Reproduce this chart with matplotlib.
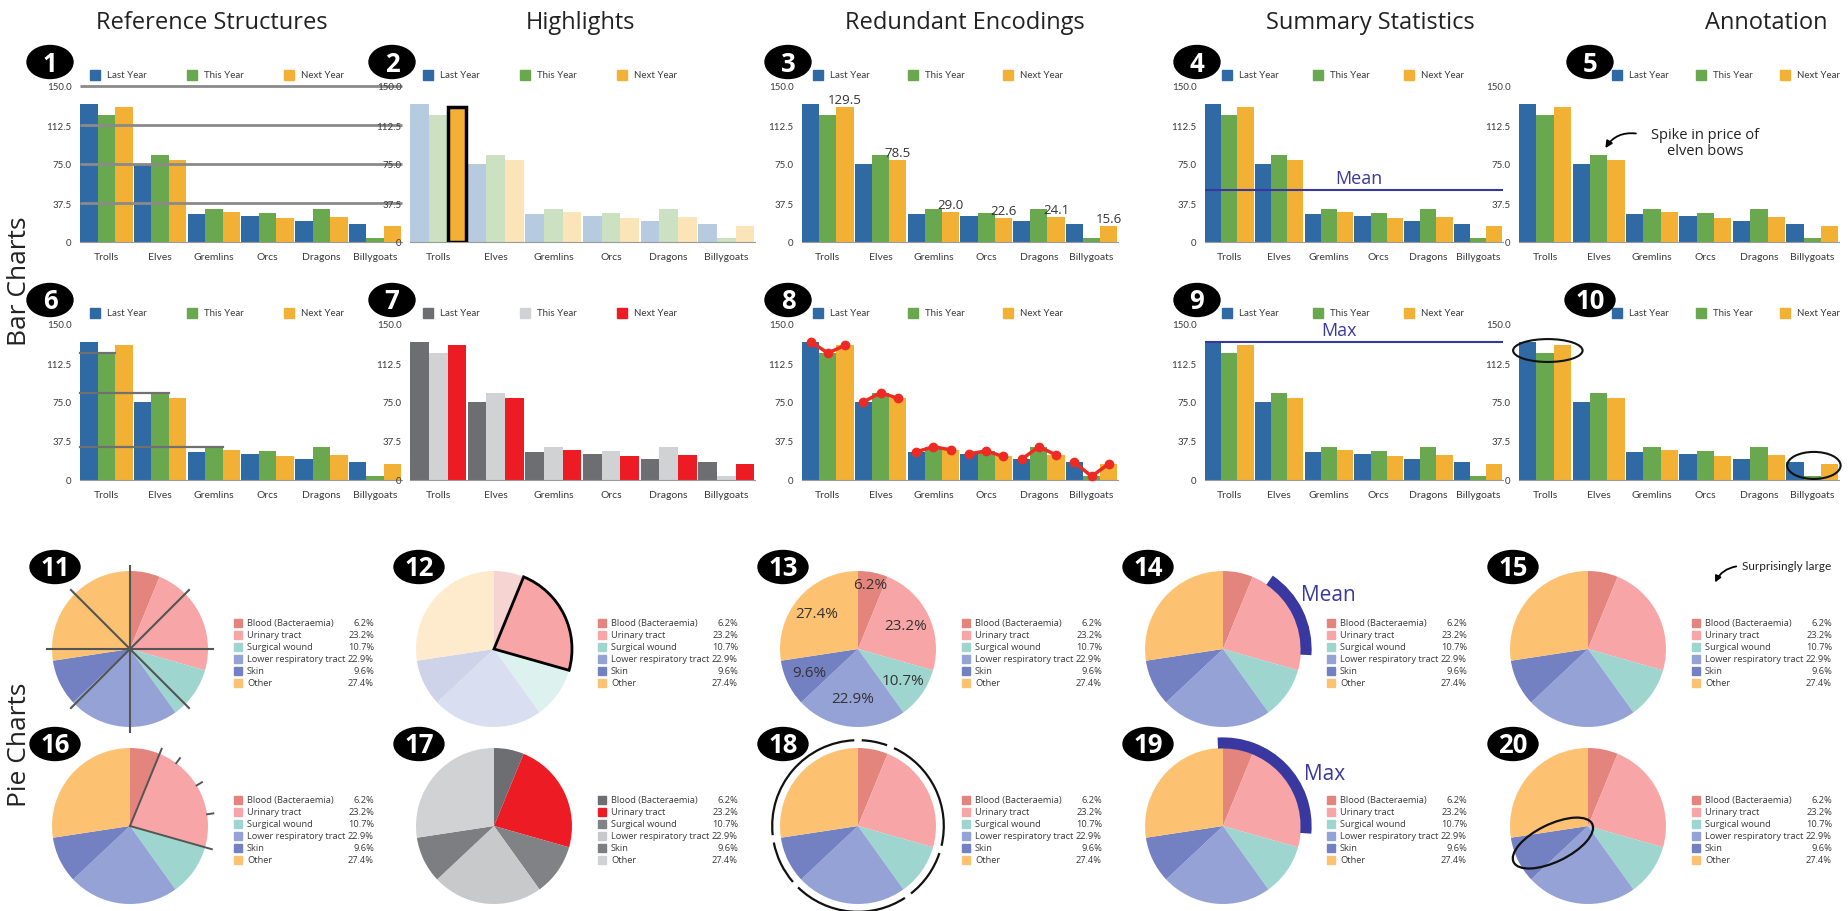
import numpy as np
import matplotlib.pyplot as plt
from matplotlib.colors import to_rgb
from matplotlib.patches import Ellipse, Rectangle, Arc

plt.rcParams['font.family'] = ['Open Sans', 'DejaVu Sans']

W, H = 1849, 912

categories = ['Trolls', 'Elves', 'Gremlins', 'Orcs', 'Dragons', 'Billygoats']
series_names = ['Last Year', 'This Year', 'Next Year']
last_year = [133, 75, 27, 25, 20, 17]
this_year = [122, 84, 32, 28, 32, 3.5]
next_year = [129.5, 78.5, 29.0, 22.6, 24.1, 15.6]
ytick_values = [0, 37.5, 75.0, 112.5, 150.0]
ytick_labels = ['0', '37.5', '75.0', '112.5', '150.0']

infections = ['Blood (Bacteraemia)', 'Urinary tract', 'Surgical wound',
              'Lower respiratory tract', 'Skin', 'Other']
shares = [6.2, 23.2, 10.7, 22.9, 9.6, 27.4]

column_titles = ['Reference Structures', 'Highlights', 'Redundant Encodings',
                 'Summary Statistics', 'Annotation']

BAR_COLORS = ['#2f6aa5', '#6aa84f', '#f2b134']
GRAY_BARS = ['#6d6e71', '#d1d2d4', '#ed1c24']
PIE_COLORS = ['#e3847d', '#f7a5a6', '#9ed6cf', '#95a2d6', '#7380c2', '#fdc271']
PIE_GRAY = ['#6d6e71', '#ed1c24', '#808285', '#c8c9cb', '#7d7e81', '#d1d2d4']
BLUE = '#3838a0'
TXT = '#3a3a3a'

values = np.array([last_year, this_year, next_year])
x = np.arange(len(categories))
BW = 0.325
cum = np.concatenate([[0], np.cumsum(shares)])


def fade(c, k=0.35):
    r, g, b = to_rgb(c)
    return (1 - k + k * r, 1 - k + k * g, 1 - k + k * b)


fig = plt.figure(figsize=(W / 100, H / 100), dpi=100)
fig.patch.set_facecolor('white')


def px_axes(x0, y0, x1, y1):
    return fig.add_axes([x0 / W, 1 - y1 / H, (x1 - x0) / W, (y1 - y0) / H])


# overlay in pixel coordinates for titles, badges and legends
ov = px_axes(0, 0, W, H)
ov.set_xlim(0, W)
ov.set_ylim(H, 0)
ov.axis('off')
ov.set_zorder(5)


def badge(cx, cy, num):
    w = 46 if num < 10 else 50
    ov.add_patch(Ellipse((cx, cy), w, 33, color='black'))
    ov.text(cx, cy + 1, str(num), color='white', fontsize=18.5, fontweight='bold',
            ha='center', va='center')


def bar_panel(left, top, width, lx0, lstep, colors=BAR_COLORS, bar_colors=None):
    ax = px_axes(left, top, left + width, top + 156)
    bc = bar_colors if bar_colors is not None else [[c] * 6 for c in colors]
    bars = []
    for k in range(3):
        bars.append(ax.bar(x + (k - 1) * BW, values[k], BW, color=bc[k], zorder=2))
    ax.set_xlim(-0.49, 5.5)
    ax.set_ylim(0, 150)
    ax.set_yticks(ytick_values, ytick_labels)
    ax.set_xticks(x, categories)
    ax.tick_params(length=0, labelsize=7, colors=TXT, pad=6)
    ax.tick_params(axis='x', labelsize=7.5, pad=7)
    for lab in ax.get_xticklabels() + ax.get_yticklabels():
        lab.set_family('Lato')
    for s in ['top', 'right', 'left']:
        ax.spines[s].set_visible(False)
    ax.spines['bottom'].set_color('#9a9a9a')
    ax.patch.set_alpha(0)
    for k, name in enumerate(series_names):
        lx = lx0 + k * lstep
        ov.add_patch(Rectangle((lx, top - 16), 10, 10, color=colors[k]))
        ov.text(lx + 17, top - 11, name, fontsize=7, va='center', color=TXT,
                family='Lato')
    return ax, bars


R = 78


def pie_panel(cx, cy, colors=PIE_COLORS, legend_colors=None):
    ax = px_axes(cx - 120, cy - 100, cx + 120, cy + 100)
    wedges, _ = ax.pie(shares, colors=colors, startangle=90, counterclock=False,
                       wedgeprops=dict(linewidth=0))
    ax.set_xlim(-120 / R, 120 / R)
    ax.set_ylim(-100 / R, 100 / R)
    ax.set_aspect('equal')
    lc = legend_colors if legend_colors is not None else colors
    for i, name in enumerate(infections):
        ly = cy - 26 + i * 12
        ov.add_patch(Rectangle((cx + 104, ly - 4), 8, 8, color=lc[i]))
        ov.text(cx + 117, ly, name, fontsize=6.7, va='center', color=TXT)
        ov.text(cx + 244, ly, f'{shares[i]:.1f}%', fontsize=6.7, va='center',
                ha='right', color=TXT)
    return ax, wedges


def ang(p):
    return np.deg2rad(90 - p * 3.6)


def radial(ax, p, r0, r1, **kw):
    a = ang(p)
    ax.plot([r0 * np.cos(a), r1 * np.cos(a)], [r0 * np.sin(a), r1 * np.sin(a)],
            clip_on=False, **kw)


# ---- titles and row labels ----
title_x = [212, 580, 965, 1370, 1766]
for tx, t in zip(title_x, column_titles):
    ov.text(tx, 23, t, fontsize=17, ha='center', va='center', color='#222')
ov.text(20, 281, 'Bar Charts', rotation=90, fontsize=19, ha='center', va='center', color='#222')
ov.text(20, 745, 'Pie Charts', rotation=90, fontsize=19, ha='center', va='center', color='#222')

# ---- bar charts ----
lefts = [80, 410, 802, 1205, 1519]
widths = [322, 345, 316, 298, 320]
tops = [87, 325]
badge_x = [50, 392, 788, 1197, 1590]
legend_x = [90, 423, 813, 1222, 1612]
legend_step = [97, 97, 95, 91, 84]


def panel(c, r, **kw):
    return bar_panel(lefts[c], tops[r], widths[c], legend_x[c], legend_step[c], **kw)


# 1: reference lines
ax, _ = panel(0, 0)
ax.hlines(ytick_values[1:], -0.49, 5.5, color='#8a8a8a', lw=2, zorder=3, clip_on=False)

# 2: highlight one bar
hl = [[fade(c)] * 6 for c in BAR_COLORS]
hl[2][0] = BAR_COLORS[2]
ax, bars = panel(1, 0, bar_colors=hl)
bars[2][0].set_edgecolor('black')
bars[2][0].set_linewidth(2.5)
bars[2][0].set_zorder(4)

# 3: value labels
ax, _ = panel(2, 0)
for i, v in enumerate(next_year):
    ax.text(i + BW, v + 1, f'{v:.1f}', ha='center', va='bottom', fontsize=9.5, color='#333')

# 4: mean line
ax, _ = panel(3, 0)
mean_v = values.mean()
ax.axhline(mean_v, color=BLUE, lw=1.5, zorder=3)
ax.text(2.6, mean_v + 3, 'Mean', color=BLUE, fontsize=13, ha='center', va='bottom')

# 5: text annotation
ax, _ = panel(4, 0)
ax.text(3.0, 96, 'Spike in price of\nelven bows', fontsize=10.5, ha='center',
        va='center', color='#222', linespacing=1.1)
ax.annotate('', xy=(1.1, this_year[1] + 4), xytext=(1.75, 104),
            arrowprops=dict(arrowstyle='-|>', color='black', lw=1.3,
                            connectionstyle='arc3,rad=0.35', mutation_scale=10))

# 6: reference lines to highlighted bars
ax, _ = panel(0, 1)
for i in range(3):
    ax.plot([-0.49, i + BW / 2], [this_year[i], this_year[i]], color='#707070',
            lw=1.6, zorder=3, clip_on=False)

# 7: grey with red highlight
panel(1, 1, colors=GRAY_BARS)

# 8: line + markers over groups
ax, _ = panel(2, 1)
for i in x:
    ax.plot(i + (np.arange(3) - 1) * BW, values[:, i], '-o', color='#ee2a24',
            lw=2.5, ms=6, zorder=4, clip_on=False)

# 9: max line
ax, _ = panel(3, 1)
max_v = values.max()
ax.axhline(max_v, color=BLUE, lw=1.5, zorder=3)
ax.text(2.2, max_v + 3, 'Max', color=BLUE, fontsize=13, ha='center', va='bottom')

# 10: hand-drawn loops
ax, _ = panel(4, 1)
ax.add_patch(Ellipse((0.05, 124.5), 1.3, 22, fill=False, ec='#111', lw=1.5,
                     zorder=5, clip_on=False))
ax.add_patch(Ellipse((5.03, 14), 1.0, 26, fill=False, ec='#111', lw=1.5,
                     zorder=5, clip_on=False))

for r, top in enumerate(tops):
    for c in range(5):
        badge(badge_x[c], top - 24, r * 5 + c + 1)

# ---- pie charts ----
pie_x = [130, 494, 858, 1223, 1588]
pie_y = [650, 827]

# 11: radial grid
ax, _ = pie_panel(pie_x[0], pie_y[0])
for a in range(0, 180, 45):
    t = np.deg2rad(a)
    ax.plot([-1.07 * np.cos(t), 1.07 * np.cos(t)], [-1.07 * np.sin(t), 1.07 * np.sin(t)],
            color='#555', lw=1.5, clip_on=False)

# 12: highlighted slice
ax, wedges = pie_panel(pie_x[1], pie_y[0], colors=[fade(c) if i != 1 else c
                                                  for i, c in enumerate(PIE_COLORS)],
                       legend_colors=PIE_COLORS)
wedges[1].set_edgecolor('black')
wedges[1].set_linewidth(2)
wedges[1].set_zorder(3)

# 13: percent labels
ax, _ = pie_panel(pie_x[2], pie_y[0])
label_r = [0.84, 0.68, 0.7, 0.64, 0.7, 0.7]
for i, s in enumerate(shares):
    a = ang((cum[i] + cum[i + 1]) / 2)
    ax.text(label_r[i] * np.cos(a), label_r[i] * np.sin(a), f'{s:.1f}%',
            ha='center', va='center', fontsize=11, color='#333')

# 14: mean arc
ax, _ = pie_panel(pie_x[3], pie_y[0])
mid = (cum[1] + cum[2]) / 2
span = np.mean(shares)
ax.add_patch(Arc((0, 0), 2.13, 2.13, theta1=90 - (mid + span / 2) * 3.6,
                 theta2=90 - (mid - span / 2) * 3.6, color=BLUE, lw=8, clip_on=False))
ov.text(pie_x[3] + 105, pie_y[0] - 54, 'Mean', color=BLUE, fontsize=15,
        ha='center', va='center')

# 15: text annotation
ax, _ = pie_panel(pie_x[4], pie_y[0])
ov.text(pie_x[4] + 154, pie_y[0] - 83, 'Surprisingly large', fontsize=8.5,
        ha='left', va='center', color='#222', family='Lato')
ov.annotate('', xy=(pie_x[4] + 126, pie_y[0] - 64), xytext=(pie_x[4] + 151, pie_y[0] - 83),
            arrowprops=dict(arrowstyle='-|>', color='black', lw=1.3,
                            connectionstyle='arc3,rad=0.3', mutation_scale=9))

# 16: slice edges and ticks
ax, _ = pie_panel(pie_x[0], pie_y[1])
radial(ax, cum[1], 0, 1.07, color='#555', lw=1.4)
radial(ax, cum[2], 0, 1.09, color='#555', lw=1.4)
for p in [10.1, 16.3, 22.6]:
    radial(ax, p, 1.0, 1.08, color='#555', lw=1.4)

# 17: grey with red highlight
pie_panel(pie_x[1], pie_y[1], colors=PIE_GRAY)

# 18: outer arcs
ax, _ = pie_panel(pie_x[2], pie_y[1])
for i in range(len(shares)):
    ax.add_patch(Arc((0, 0), 2.2, 2.2, theta1=90 - cum[i + 1] * 3.6 + 2.5,
                     theta2=90 - cum[i] * 3.6 - 2.5, color='#111', lw=1.6, clip_on=False))

# 19: max arc
ax, _ = pie_panel(pie_x[3], pie_y[1])
mx = max(shares)
ax.add_patch(Arc((0, 0), 2.13, 2.13, theta1=90 - (mx - 1) * 3.6, theta2=90 + 1 * 3.6,
                 color=BLUE, lw=8, clip_on=False))
ov.text(pie_x[3] + 102, pie_y[1] - 52, 'Max', color=BLUE, fontsize=15,
        ha='center', va='center')

# 20: loop around a slice
ax, _ = pie_panel(pie_x[4], pie_y[1])
a = ang((cum[4] + cum[5]) / 2)
ax.add_patch(Ellipse((0.5 * np.cos(a), 0.5 * np.sin(a)), 1.12, 0.48,
                     angle=np.rad2deg(a), fill=False, ec='#111', lw=1.6, clip_on=False))

for r, cy in enumerate(pie_y):
    for c in range(5):
        badge(pie_x[c] - 75, cy - 82, 11 + r * 5 + c)

fig.savefig('out.png', dpi=100)
